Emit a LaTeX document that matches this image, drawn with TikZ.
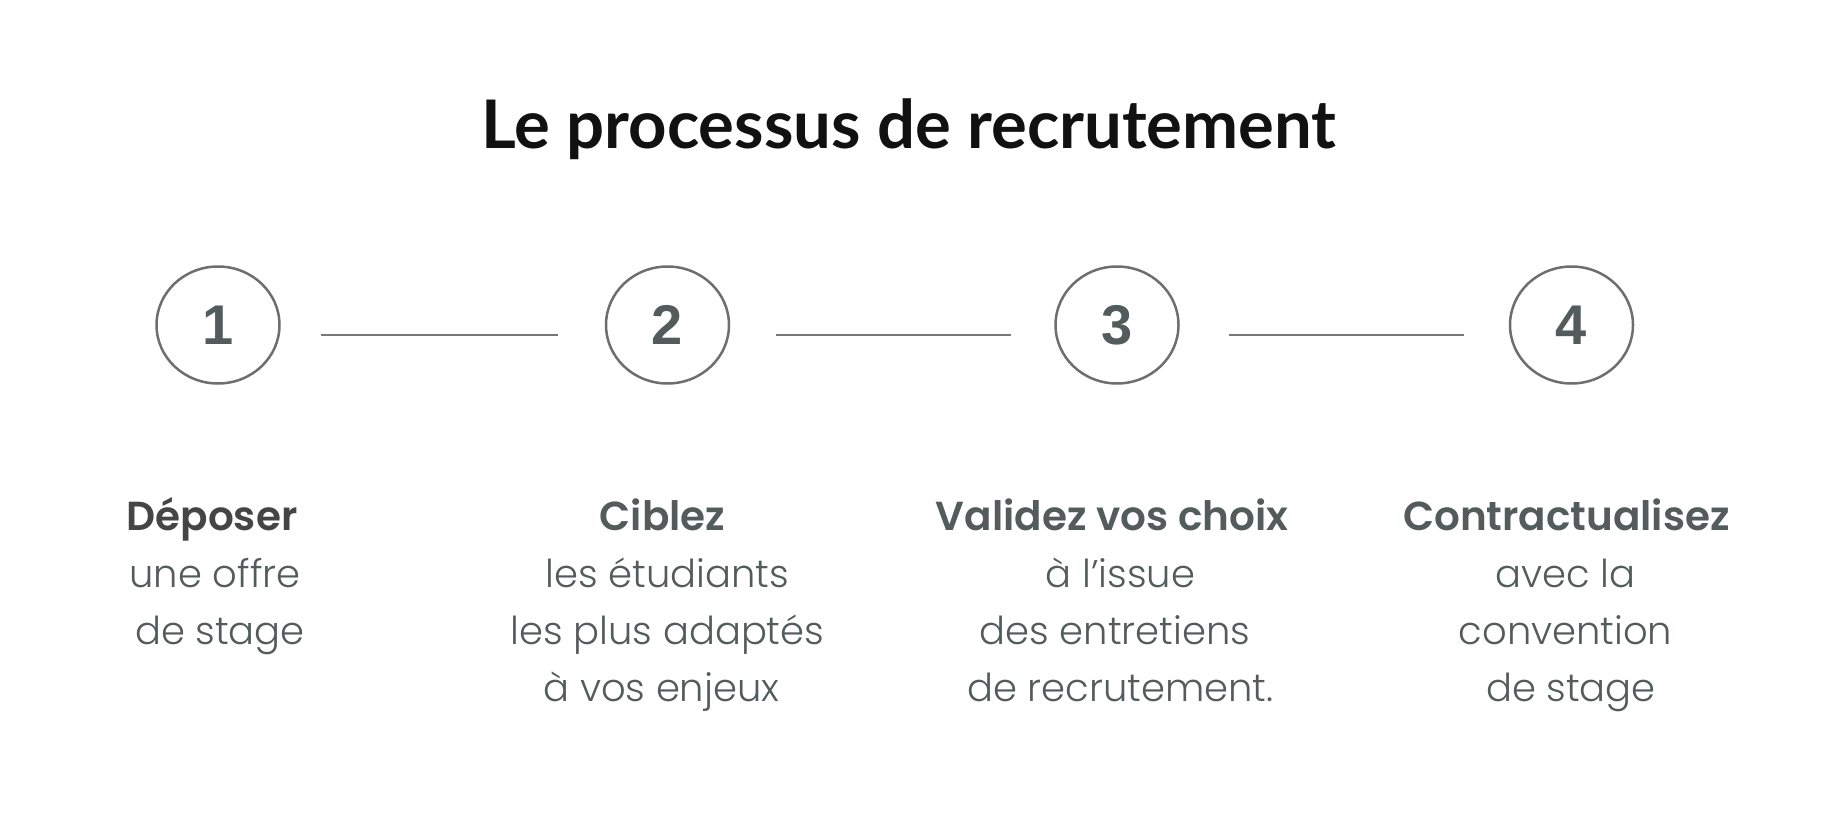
\documentclass[tikz,border=0pt]{standalone}
\usepackage{fontspec}
\setmainfont{Lato}
\newfontfamily\lightfont{Poppins Light}
\newfontfamily\headfont{Poppins SemiBold}
\newfontfamily\digitfont{Liberation Sans}
\usetikzlibrary{positioning,shapes.geometric}
\definecolor{rcink}{HTML}{111111}
\definecolor{rcslate}{HTML}{535B5B}
\definecolor{rcdark}{HTML}{454545}
\definecolor{rcring}{HTML}{6E6E6E}
\definecolor{rcrule}{HTML}{777777}

\begin{document}
\begin{tikzpicture}[
  x=1pt, y=-1pt,
  node distance=324pt,
  stepring/.style={ellipse, draw=rcring, line width=2.5pt, inner sep=0pt,
                   minimum width=123pt, minimum height=117pt,
                   font=\digitfont\bfseries\fontsize{56}{56}\selectfont, text=rcslate},
  steptext/.style={anchor=base, align=center, text=rcslate,
                   font=\lightfont\fontsize{38.5}{57}\selectfont},
  stephead/.style={font=\headfont\fontsize{40.5}{57}\selectfont},
  link/.style={draw=rcrule, line width=2.3pt},
]
  \useasboundingbox (0,0) rectangle (1838,832);

  %% Title
  \node[font=\bfseries\fontsize{67}{67}\selectfont, text=rcink, anchor=base]
    (title) at (909,148) {Le processus de recrutement};

  %% Step circles
  \node[stepring] (c1) at (218,325) {1};
  \node[stepring, right=of c1] (c2) {2};
  \node[stepring, right=of c2] (c3) {3};
  \node[stepring, right=of c3, xshift=5pt] (c4) {4};

  %% Connecting rules
  \draw[link, shorten <=40pt, shorten >=47pt] ([yshift=-10pt]c1.east) -- ([yshift=-10pt]c2.west);
  \draw[link, shorten <=46pt, shorten >=43pt] ([yshift=-10pt]c2.east) -- ([yshift=-10pt]c3.west);
  \draw[link, shorten <=49pt, shorten >=45pt] ([yshift=-10pt]c3.east) -- ([yshift=-10pt]c4.west);

  %% Step headings
  \node[steptext, stephead, text=rcdark] (h1) at ([xshift=-6pt, yshift=-205pt]c1.center) {D\'eposer};
  \node[steptext, stephead] (h2) at ([xshift=-5pt, yshift=-205pt]c2.center) {Ciblez};
  \node[steptext, stephead] (h3) at ([xshift=-5pt, yshift=-205pt]c3.center) {Validez vos choix};
  \node[steptext, stephead] (h4) at ([xshift=-5pt, yshift=-205pt]c4.center) {Contractualisez};

  %% Step descriptions (base = last line)
  \node[steptext] (t1) at ([xshift=-3pt, yshift=-319pt]c1.center)
    {une offre\\\hspace*{10pt}de stage};
  \node[steptext] (t2) at ([xshift=0pt, yshift=-376pt]c2.center)
    {les \'etudiants\\les plus adapt\'es\\\hspace*{-12pt}\`a vos enjeux};
  \node[steptext] (t3) at ([xshift=-2pt, yshift=-376pt]c3.center)
    {\hspace*{11pt}à l’issue\\des entretiens\\\hspace*{11pt}de recrutement.};
  \node[steptext] (t4) at ([xshift=-6pt, yshift=-376pt]c4.center)
    {avec la\\convention\\\hspace*{11pt}de stage};
\end{tikzpicture}
\end{document}
